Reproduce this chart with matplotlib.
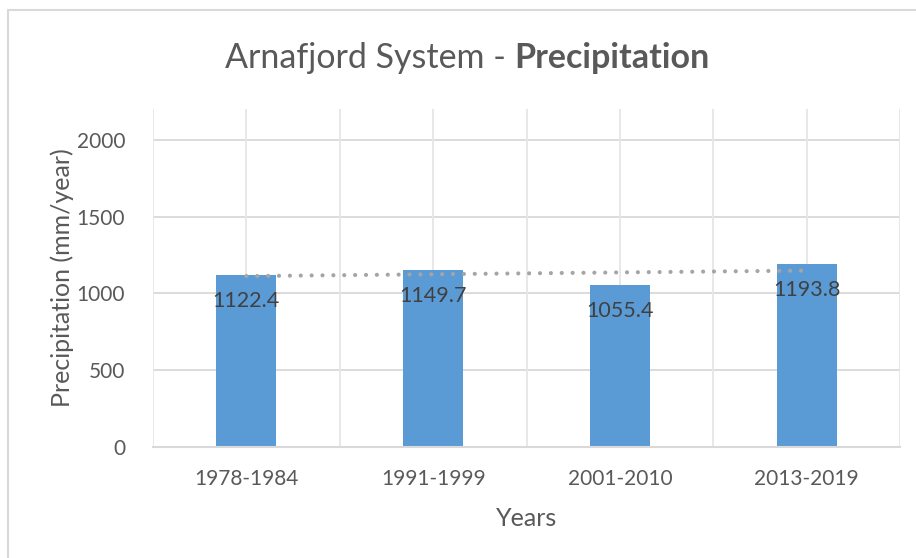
import numpy as np
import matplotlib
matplotlib.use("Agg")
import matplotlib.pyplot as plt
from matplotlib.patches import Rectangle

# Data
periods = ["1978-1984", "1991-1999", "2001-2010", "2013-2019"]
precip = [1122.4, 1149.7, 1055.4, 1193.8]
y_ticks = [0, 500, 1000, 1500, 2000]

title_plain = "Arnafjord System - "
title_bold = "Precipitation"
x_label = "Years"
y_label = "Precipitation (mm/year)"

FONT = ["Lato", "DejaVu Sans"]
plt.rcParams["font.family"] = FONT

W, H, DPI = 916, 558, 100
fig = plt.figure(figsize=(W / DPI, H / DPI), dpi=DPI)
fig.patch.set_facecolor("white")

# plot-area in pixel terms
left, right, top, bottom = 153, 900, 109, 447
ax = fig.add_axes([left / W, 1 - bottom / H, (right - left) / W, (bottom - top) / H])

x = np.arange(len(periods))
bar_color = "#5B9BD5"
grid_color = "#E6E6E6"
text_color = "#595959"

ax.set_xlim(-0.5, len(periods) - 0.5)
ax.set_ylim(0, 2200)

# gridlines
for yv in y_ticks[1:]:
    ax.axhline(yv, color="#D9D9D9", lw=1.3, zorder=0)
for xv in np.arange(-0.5, len(periods) - 0.49, 0.5):
    ax.axvline(xv, color=grid_color, lw=1.3, zorder=0)

ax.bar(x, precip, width=0.32, color=bar_color, zorder=2)

# linear trend of the series
coef = np.polyfit(x, precip, 1)
trend = np.polyval(coef, x)
ax.plot(x, trend, color="#A5A5A5", lw=3.0, linestyle=(0, (0.01, 2.6)),
        dash_capstyle="round", zorder=3)

# value labels inside the bar ends
for xi, v in zip(x, precip):
    ax.annotate(f"{v:.1f}", xy=(xi, v), xytext=(0, -16), textcoords="offset pixels",
                ha="center", va="top", fontsize=15.5, color="#404040", zorder=4)

for s in ["top", "right", "left"]:
    ax.spines[s].set_visible(False)
ax.spines["bottom"].set_color("#D9D9D9")
ax.spines["bottom"].set_linewidth(1.5)

ax.set_yticks(y_ticks)
ax.set_xticks(x)
ax.set_xticklabels(periods)
ax.tick_params(axis="both", length=0, labelsize=15, labelcolor=text_color)
ax.tick_params(axis="y", pad=20)
ax.tick_params(axis="x", pad=16)

ax.set_xlabel(x_label, fontsize=18, color=text_color, labelpad=13)
ax.set_ylabel(y_label, fontsize=18, color=text_color, labelpad=2)

# title: plain part followed by bold part
t1 = fig.text(225 / W, 1 - 68 / H, title_plain, fontsize=24.5, color=text_color,
              ha="left", va="baseline")
ax.annotate(title_bold, xy=(1, 0), xycoords=t1, xytext=(0, 0), textcoords="offset pixels",
            ha="left", va="bottom", fontsize=24.5, fontweight="bold", color=text_color,
            annotation_clip=False)

# chart frame
fig.patches.append(Rectangle((8 / W, -0.1), 1.2, 1 - 10 / H + 0.1,
                             transform=fig.transFigure, fill=False,
                             edgecolor="#D9D9D9", lw=1.5, zorder=0))

fig.savefig("out.png", dpi=DPI)
